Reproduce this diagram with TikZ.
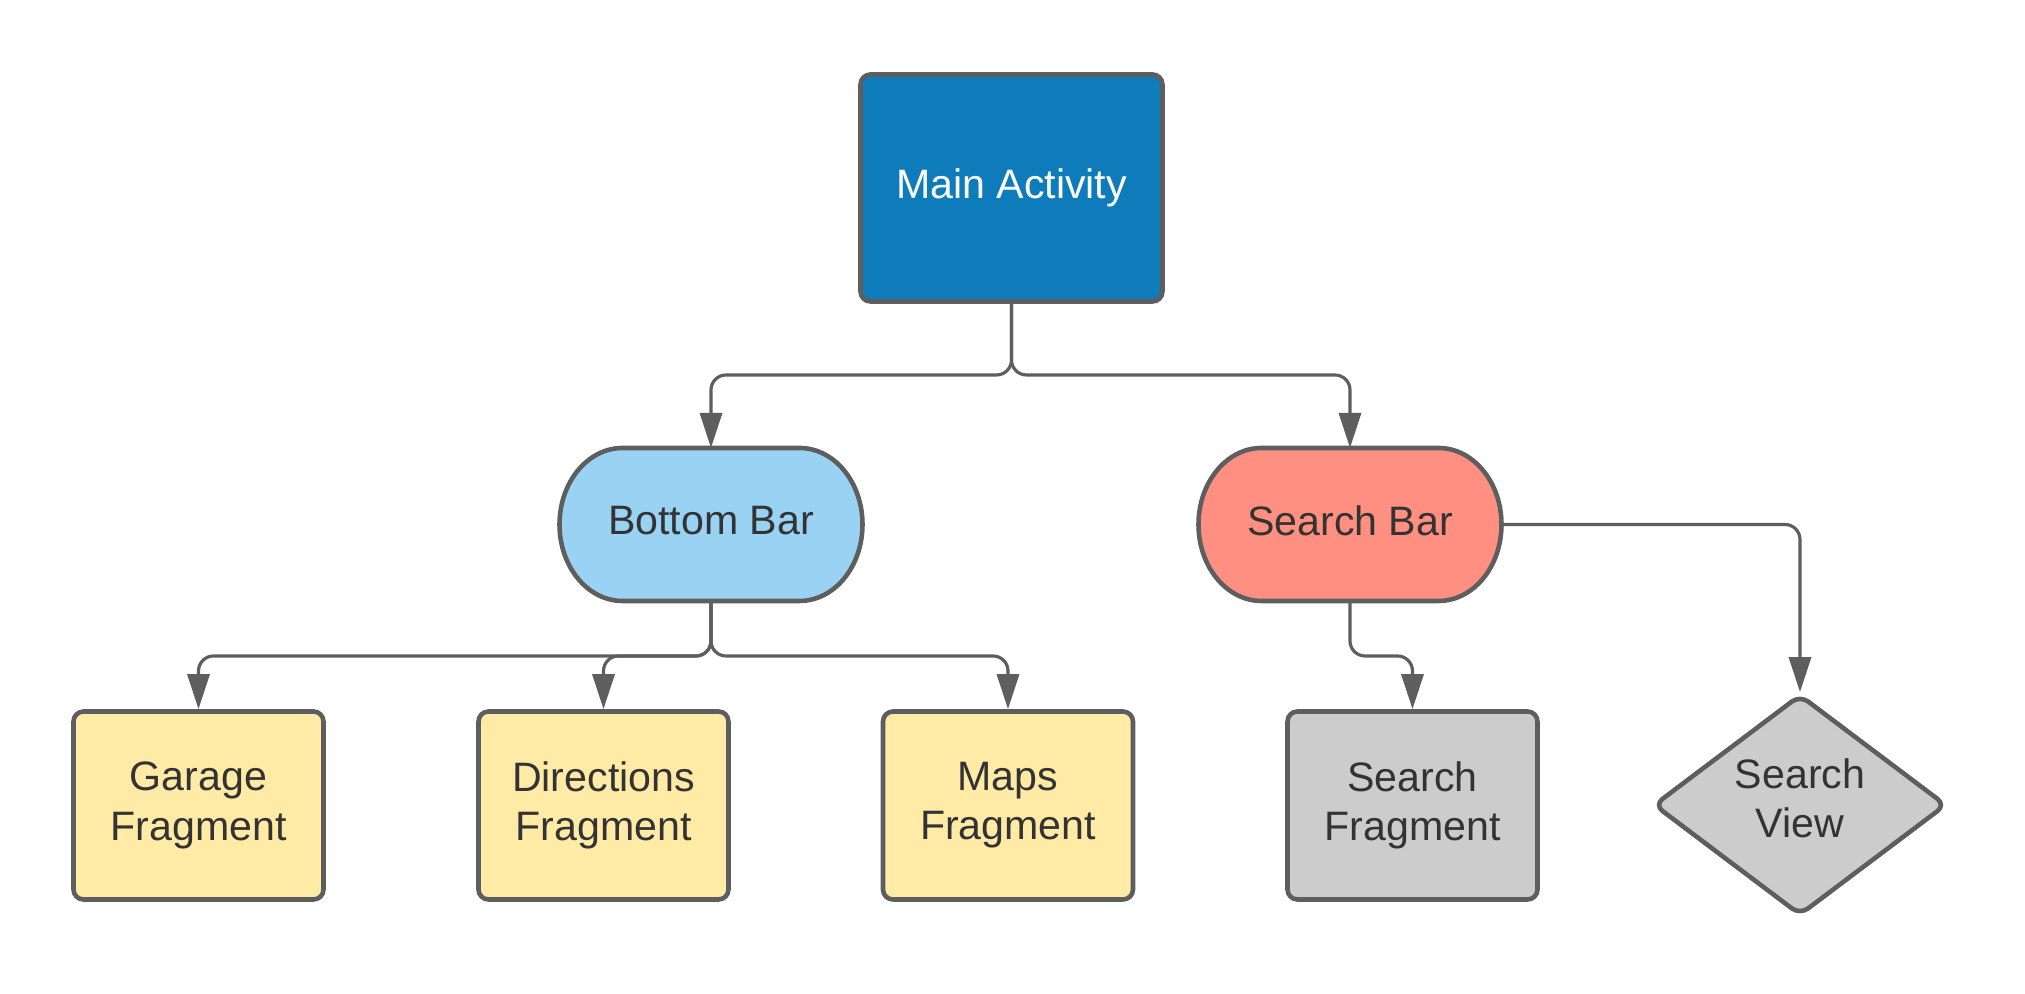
\documentclass[tikz,border=0pt]{standalone}
\usepackage{fontspec}
\setmainfont{Liberation Sans}
\usetikzlibrary{arrows.meta,shapes.geometric,backgrounds}

\definecolor{linegray}{HTML}{5E5E5E}
\definecolor{textgray}{HTML}{333333}
\definecolor{mainblue}{HTML}{0E7CBB}
\definecolor{barblue}{HTML}{99D2F2}
\definecolor{barred}{HTML}{FF8F80}
\definecolor{fragyellow}{HTML}{FFEAA6}
\definecolor{fraggray}{HTML}{CCCCCC}

\tikzset{
    label font/.style={font=\fontsize{11.7}{14}\selectfont},
    box/.style={draw=linegray, line width=1.3pt, rounded corners=1mm, minimum width=2.5cm, minimum height=1.88cm, align=center, text=textgray, label font},
    bar/.style={minimum width=3.03cm, minimum height=1.53cm, outer sep=0pt, text depth=0.8mm, text=textgray, label font},
    link/.style={draw=linegray, line width=0.9pt, rounded corners=1.5mm, -{Triangle[length=3.5mm,width=2.2mm]}},
}

\begin{document}
\begin{tikzpicture}
    \useasboundingbox (0,0) rectangle (20.25,9.94);

    % Atividade principal
    \node[box, fill=mainblue, text=white, minimum width=3.02cm, minimum height=2.27cm] (main) at (10.115,8.06) {Main Activity};

    % Barras
    \node[bar] (bottom) at (7.11,4.695) {Bottom Bar};
    \node[bar] (searchbar) at (13.5,4.695) {Search Bar};

    % Fragmentos
    \node[box, fill=fragyellow] (garage) at (1.985,1.885) {Garage\\Fragment};
    \node[box, fill=fragyellow] (directions) at (6.035,1.885) {Directions\\Fragment};
    \node[box, fill=fragyellow] (maps) at (10.08,1.885) {Maps\\Fragment};
    \node[box, fill=fraggray] (searchfrag) at (14.125,1.885) {Search\\Fragment};
    \node[diamond, aspect=1.33, draw=linegray, line width=1.3pt, rounded corners=1mm, fill=fraggray, minimum width=2.93cm, minimum height=2.21cm, inner sep=0pt, text depth=1.3mm, align=center, text=textgray, label font] (searchview) at (18.0,1.89) {Search\\View};

    % Forma das barras (lados elipticos)
    \begin{scope}[on background layer]
        \foreach \n/\c in {bottom/barblue, searchbar/barred}
            \draw[draw=linegray, line width=1.3pt, fill=\c] ([xshift=6.3mm]\n.north west) -- ([xshift=-6.3mm]\n.north east)
                arc[start angle=90, end angle=-90, x radius=6.3mm, y radius=7.65mm] -- ([xshift=6.3mm]\n.south west)
                arc[start angle=270, end angle=90, x radius=6.3mm, y radius=7.65mm] -- cycle;
    \end{scope}

    % Ligacoes
    \coordinate (mainsplit) at (10.115,6.19);
    \coordinate (bottomsplit) at (7.11,3.38);
    \coordinate (searchsplit) at (13.5,3.38);

    \draw[link] (main.south) -- (mainsplit) -| (bottom.north);
    \draw[link] (main.south) -- (mainsplit) -| (searchbar.north);

    \foreach \f in {garage,directions,maps}
        \draw[link] (bottom.south) -- (bottomsplit) -| (\f.north);

    \draw[link] (searchbar.south) -- (searchsplit) -| (searchfrag.north);
    \draw[link] (searchbar.east) -| (searchview.north);
\end{tikzpicture}
\end{document}
